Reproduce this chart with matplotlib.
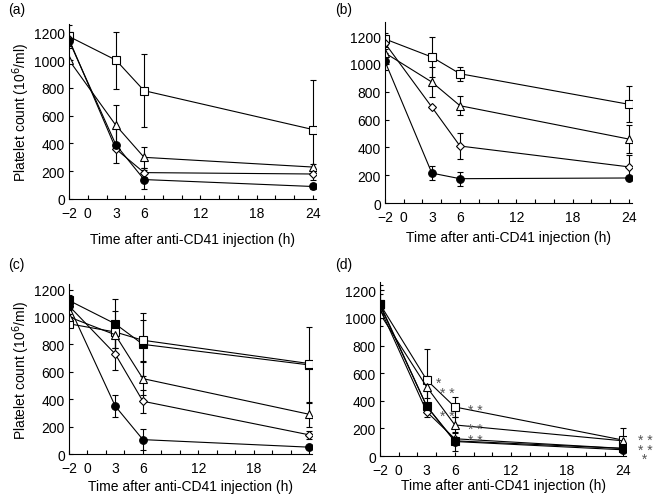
import matplotlib
matplotlib.use("Agg")
import matplotlib.pyplot as plt

plt.rcParams['font.family'] = ['Liberation Sans', 'DejaVu Sans']
plt.rcParams['font.size'] = 10

hours = [-2, 3, 6, 24]
x_tick_labels = ['\u22122', '0', '3', '6', '12', '18', '24']
x_tick_pos = [-2, 0, 3, 6, 12, 18, 24]

# panel (a)
a_square = [1170, 1000, 780, 500]
a_square_err = [80, 205, 265, 360]
a_triangle = [1000, 530, 300, 230]
a_triangle_err = [0, 145, 75, 20]
a_diamond = [1150, 360, 190, 180]
a_diamond_err = [0, 0, 30, 10]
a_circle = [1140, 390, 140, 90]
a_circle_err = [40, 130, 70, 15]

# panel (b)
b_square = [1180, 1050, 930, 710]
b_square_err = [40, 145, 50, 130]
b_triangle = [1080, 870, 700, 460]
b_triangle_err = [30, 105, 70, 100]
b_diamond = [1150, 690, 410, 260]
b_diamond_err = [30, 0, 95, 85]
b_circle = [1020, 215, 175, 180]
b_circle_err = [60, 50, 50, 10]

# panel (c)
c_fsquare = [1120, 950, 800, 650]
c_fsquare_err = [40, 180, 230, 280]
c_square = [950, 890, 830, 660]
c_square_err = [0, 150, 150, 0]
c_triangle = [1000, 870, 550, 290]
c_triangle_err = [20, 100, 120, 90]
c_diamond = [1080, 730, 385, 140]
c_diamond_err = [0, 120, 85, 30]
c_circle = [1080, 350, 105, 50]
c_circle_err = [30, 80, 75, 10]

# panel (d)
d_square = [1100, 550, 355, 115]
d_square_err = [70, 225, 75, 85]
d_triangle = [1030, 500, 225, 110]
d_triangle_err = [0, 80, 60, 0]
d_diamond = [1070, 320, 125, 55]
d_diamond_err = [0, 40, 0, 0]
d_circle = [1090, 360, 105, 45]
d_circle_err = [150, 0, 70, 0]
d_fsquare = [1100, 360, 110, 55]
d_fsquare_err = [0, 0, 0, 0]

# significance marks in (d); stacked groups kept as one text each
d_stars_x = [4.0, 4.4, 4.4, 7.4, 7.4, 25.6]
d_stars_y = [557, 484, 318, 362, 184, 72]
d_stars_txt = ['*', '* *', '* *', '* *', '* *\n* *', '* *\n* *\n *']
d_stars_spacing = [1, 1, 1, 1, 0.72, 0.6]

styles = {
    'square': dict(marker='s', mfc='white', ms=5.5),
    'fsquare': dict(marker='s', mfc='black', ms=5.5),
    'triangle': dict(marker='^', mfc='white', ms=6),
    'diamond': dict(marker='D', mfc='white', ms=4.5),
    'circle': dict(marker='o', mfc='black', ms=5.5),
}


def panel(ax, series, ytop, ylabel, labelpad):
    for kind, vals, err in series:
        ax.errorbar(hours, vals, yerr=err, color='black', lw=0.8,
                    elinewidth=0.8, capsize=2, mec='black', mew=0.8,
                    **styles[kind])
    ax.set_xlim(-2, 24.3)
    ax.set_ylim(0, ytop)
    ax.spines['top'].set_visible(False)
    ax.spines['right'].set_visible(False)
    ax.xaxis.remove_overlapping_locs = False
    ax.set_xticks(x_tick_pos)
    ax.set_xticklabels(x_tick_labels)
    ax.set_xticks(range(-2, 25, 2), minor=True)
    ax.tick_params(axis='x', which='major', length=0, pad=5)
    ax.tick_params(axis='x', which='minor', direction='in', length=3, width=0.8)
    ax.set_yticks(range(0, 1201, 200))
    ax.tick_params(axis='y', direction='in', length=3, width=0.8, pad=3)
    ax.set_xlabel('Time after anti-CD41 injection (h)', labelpad=labelpad)
    if ylabel:
        ax.set_ylabel('Platelet count (10$^{6}$/ml)', labelpad=1)
    for s in ax.spines.values():
        s.set_linewidth(0.8)


fig = plt.figure(figsize=(6.58, 5.02), dpi=100)
ax_a = fig.add_axes([0.1049, 0.6016, 0.375, 0.3486])
ax_b = fig.add_axes([0.585, 0.5936, 0.375, 0.36])
ax_c = fig.add_axes([0.1049, 0.0936, 0.369, 0.3386])
ax_d = fig.add_axes([0.5775, 0.0896, 0.374, 0.3466])

panel(ax_a, [('square', a_square, a_square_err),
             ('triangle', a_triangle, a_triangle_err),
             ('diamond', a_diamond, a_diamond_err),
             ('circle', a_circle, a_circle_err)], 1260, True, 9)
panel(ax_b, [('square', b_square, b_square_err),
             ('triangle', b_triangle, b_triangle_err),
             ('diamond', b_diamond, b_diamond_err),
             ('circle', b_circle, b_circle_err)], 1300, False, 4)
panel(ax_c, [('fsquare', c_fsquare, c_fsquare_err),
             ('square', c_square, c_square_err),
             ('triangle', c_triangle, c_triangle_err),
             ('diamond', c_diamond, c_diamond_err),
             ('circle', c_circle, c_circle_err)], 1240, True, 3)
panel(ax_d, [('square', d_square, d_square_err),
             ('triangle', d_triangle, d_triangle_err),
             ('diamond', d_diamond, d_diamond_err),
             ('fsquare', d_fsquare, d_fsquare_err),
             ('circle', d_circle, d_circle_err)], 1260, False, 1)

for sx, sy, st, ls in zip(d_stars_x, d_stars_y, d_stars_txt, d_stars_spacing):
    ax_d.annotate(st, (sx, sy), xytext=(0, -2.5), textcoords='offset points',
                  color='#555555', fontsize=10, ha='left', va='center',
                  linespacing=ls, annotation_clip=False)

fig.text(8 / 658, 1 - 10 / 502, '(a)', va='center', ha='left')
fig.text(335 / 658, 1 - 10 / 502, '(b)', va='center', ha='left')
fig.text(8 / 658, 1 - 265 / 502, '(c)', va='center', ha='left')
fig.text(335 / 658, 1 - 265 / 502, '(d)', va='center', ha='left')

fig.savefig('out.png', dpi=100)
